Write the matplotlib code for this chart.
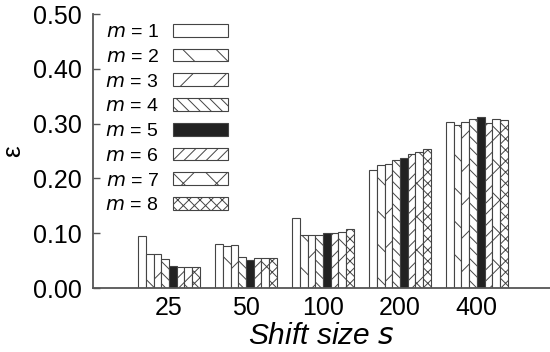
import matplotlib
matplotlib.use("Agg")
import matplotlib.pyplot as plt
import numpy as np

shift_sizes = ["25", "50", "100", "200", "400"]
m_labels = ["1", "2", "3", "4", "5", "6", "7", "8"]
m1 = [0.095, 0.081, 0.127, 0.216, 0.303]
m2 = [0.062, 0.077, 0.097, 0.224, 0.297]
m3 = [0.062, 0.079, 0.096, 0.226, 0.303]
m4 = [0.053, 0.056, 0.097, 0.233, 0.309]
m5 = [0.041, 0.052, 0.101, 0.238, 0.312]
m6 = [0.038, 0.054, 0.100, 0.245, 0.302]
m7 = [0.038, 0.054, 0.103, 0.249, 0.309]
m8 = [0.038, 0.054, 0.107, 0.253, 0.307]
series = [m1, m2, m3, m4, m5, m6, m7, m8]
y_ticks = [0.0, 0.1, 0.2, 0.3, 0.4, 0.5]

hatches = [None, "\\", "/", "\\\\\\", None, "///", "x", "xxx"]
faces = ["white"] * 8
faces[4] = "#222222"

plt.rcParams["font.family"] = ["Liberation Sans", "DejaVu Sans"]
plt.rcParams["hatch.linewidth"] = 0.7

fig = plt.figure(figsize=(5.5, 3.52), dpi=100)
ax = fig.add_axes([93 / 550, 64 / 352, 457 / 550, 274 / 352])

x = np.arange(len(shift_sizes))
w = 0.1
for i, vals in enumerate(series):
    ax.bar(x - 0.35 + i * w, vals, width=w, color=faces[i], edgecolor="#444444",
           hatch=hatches[i], linewidth=0.8,
           label=f"$m$ = {m_labels[i]}")

ax.set_xlim(-0.987, 4.95)
ax.set_ylim(0, 0.5)
ax.set_yticks(y_ticks)
ax.set_yticklabels([f"{v:.2f}" for v in y_ticks])
ax.set_xticks(x)
ax.set_xticklabels(shift_sizes)
for s in ["top", "right"]:
    ax.spines[s].set_visible(False)
for s in ["left", "bottom"]:
    ax.spines[s].set_color("#555555")
    ax.spines[s].set_linewidth(1.3)
ax.tick_params(axis="y", direction="in", length=5, width=1, color="#555555",
               labelsize=18, pad=8)
ax.tick_params(axis="x", length=0, labelsize=18, pad=6)
ax.set_xlabel("Shift size $s$", fontsize=21.5, style="italic", labelpad=1)
ax.set_ylabel("ε", fontsize=19, labelpad=6)

leg = ax.legend(loc="upper left", bbox_to_anchor=(105 / 550, 1 - 24 / 352),
                bbox_transform=fig.transFigure, frameon=False, markerfirst=False,
                fontsize=14, handlelength=2.83, handleheight=0.62,
                handletextpad=0.72, labelspacing=0.39, borderpad=0, borderaxespad=0)

fig.savefig("out.png", dpi=100)
